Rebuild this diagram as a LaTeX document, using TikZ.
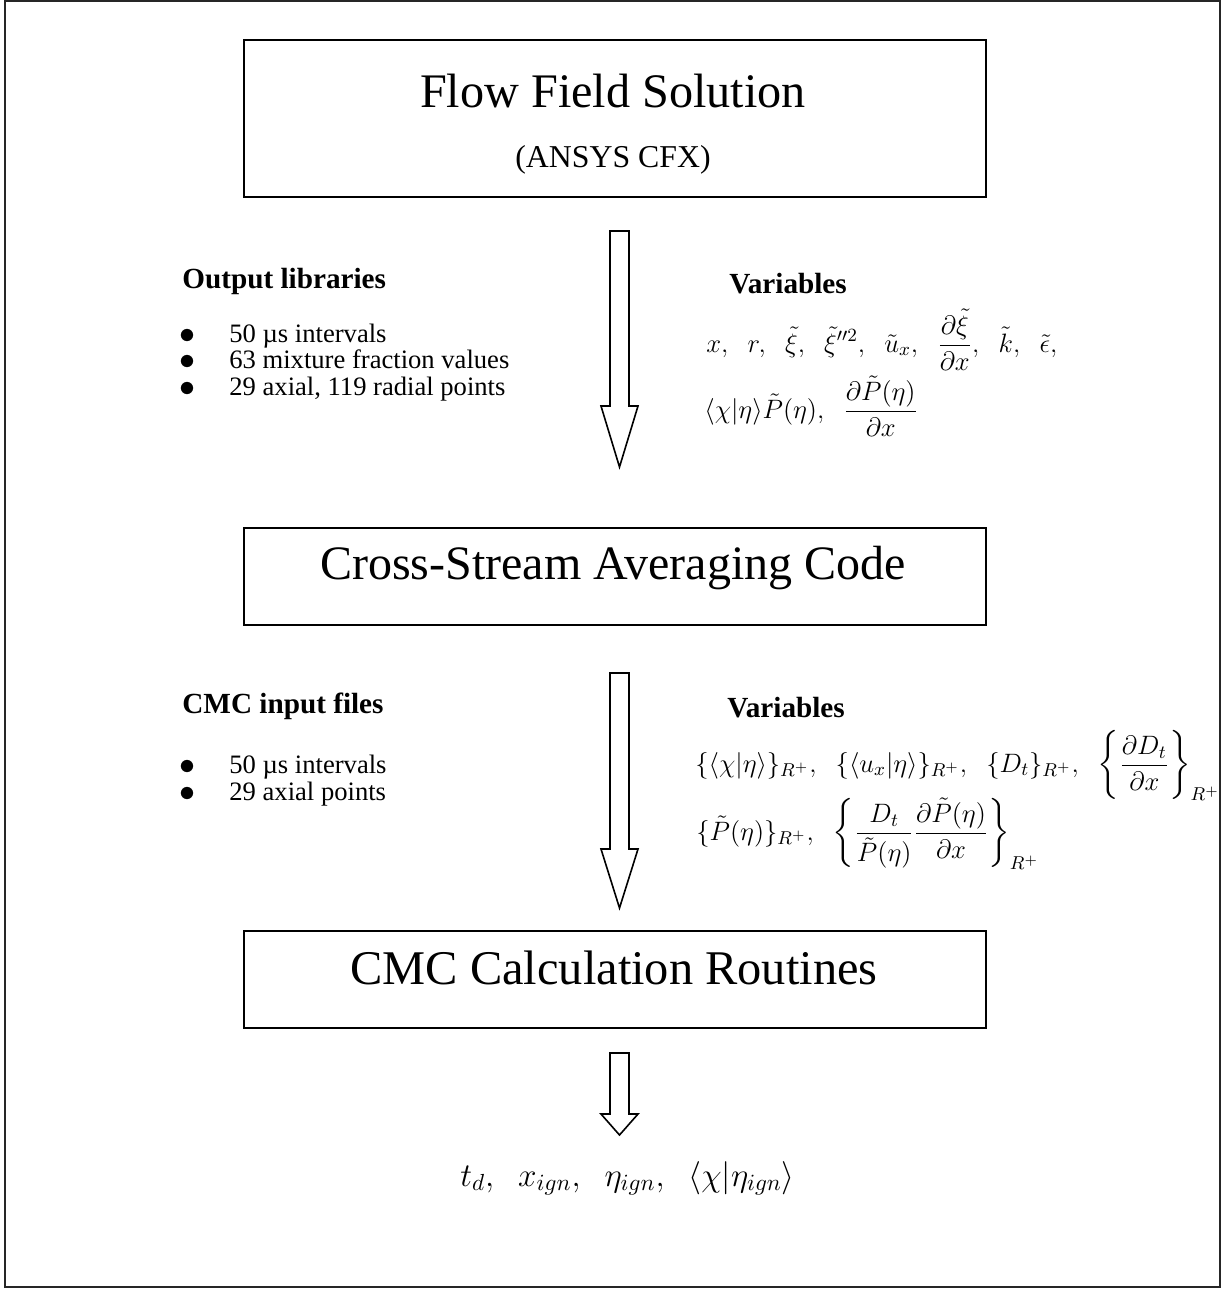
\RequirePackage{fix-cm}
\documentclass[tikz,border=0pt]{standalone}
\usepackage{amsmath}
\usepackage{fontspec}
\setmainfont{Liberation Serif}
\usetikzlibrary{positioning}

\newcommand{\hollowarrow}[3]{%
\draw[arrowline] (610,#1) -- (629,#1) -- (629,#2) -- (638,#2) -- (619.5,#3) -- (601,#2) -- (610,#2) -- cycle;}

\begin{document}
\begin{tikzpicture}[x=0.5pt,y=-0.5pt,
stagebox/.style={rectangle, draw=black, line width=1pt, inner sep=0pt},
titletext/.style={inner sep=0pt, anchor=base},
headtext/.style={inner sep=0pt, anchor=base west, font=\fontsize{14.6}{16}\selectfont\bfseries},
itemtext/.style={inner sep=0pt, anchor=base west, font=\fontsize{13.3}{14}\selectfont},
bulletmark/.style={inner sep=0pt, anchor=base west, font=\fontsize{16}{16}\selectfont},
mathtext/.style={inner sep=0pt, anchor=base west, font=\fontsize{13.3}{16}\selectfont},
arrowline/.style={draw=black, line width=0.8pt, line join=miter, fill=white}
]
\useasboundingbox (0,0) rectangle (1222,1289);
\draw[black!85, line width=1pt] (4.5,1.5) rectangle (1220,1287);
%Boxes
\node[stagebox, minimum width=371pt, minimum height=78.5pt] (flow) at (615,118.5) {};
\node[stagebox, minimum width=371pt, minimum height=48.5pt] (avg) at (615,576.5) {};
\node[stagebox, minimum width=371pt, minimum height=48.5pt] (calc) at (615,979.5) {};
%Titles
\node[titletext, font=\fontsize{24.1}{28}\selectfont] (flowtitle) at (613,108) {Flow Field Solution};
\node[titletext, font=\fontsize{15.9}{18}\selectfont] (flowsub) at (613,168) {(ANSYS CFX)};
\node[titletext, font=\fontsize{24}{28}\selectfont] (avgtitle) at (613,579) {Cross-Stream Averaging Code};
\node[titletext, font=\fontsize{24.2}{28}\selectfont] (calctitle) at (614,984) {CMC Calculation Routines};
%Arrows
\hollowarrow{231}{406}{467}
\hollowarrow{673}{849}{908}
\hollowarrow{1053}{1114}{1135}
%Output libraries
\node[headtext] (outlib) at (182,288) {Output libraries};
\foreach \txt [count=\i] in {50 µs intervals, 63 mixture fraction values, {29 axial, 119 radial points}}
{
\node[bulletmark] (outbul\i) at (179,343+26.5*\i-26.5) {$\bullet$};
\node[itemtext] (outitem\i) at (229,342+26.5*\i-26.5) {\txt};
}
%CMC input files
\node[headtext] (cmcin) at (182,713) {CMC input files};
\foreach \txt [count=\i] in {50 µs intervals, 29 axial points}
{
\node[bulletmark] (inbul\i) at (179,774+27*\i-27) {$\bullet$};
\node[itemtext] (initem\i) at (229,773+27*\i-27) {\txt};
}
%Variables
\node[headtext] (vars) at (729,293) {Variables};
\node[mathtext] (varsa) at (706,352) {$\displaystyle x,\;\; r,\;\; \tilde{\xi},\;\; \tilde{\xi}''^{2},\;\; \tilde{u}_x,\;\; \frac{\partial\tilde{\xi}}{\partial x},\;\; \tilde{k},\;\; \tilde{\epsilon},$};
\node[mathtext] (varsb) at (704,418) {$\displaystyle \langle\chi|\eta\rangle\tilde{P}(\eta),\;\; \frac{\partial\tilde{P}(\eta)}{\partial x}$};
\node[headtext] (cmcvars) at (727,717) {Variables};
\node[mathtext] (cmcvarsa) at (695,772) {$\displaystyle \{\langle\chi|\eta\rangle\}_{R^+},\;\; \{\langle u_x|\eta\rangle\}_{R^+},\;\; \{D_t\}_{R^+},\;\; \left\{\frac{\partial D_t}{\partial x}\right\}_{R^+}$};
\node[mathtext] (cmcvarsb) at (696,840) {$\displaystyle \{\tilde{P}(\eta)\}_{R^+},\;\; \left\{\frac{D_t}{\tilde{P}(\eta)}\frac{\partial\tilde{P}(\eta)}{\partial x}\right\}_{R^+}$};
%Results
\node[mathtext, font=\fontsize{16.6}{20}\selectfont] (results) at (460,1186) {$t_d,\;\; x_{ign},\;\; \eta_{ign},\;\; \langle\chi|\eta_{ign}\rangle$};
\end{tikzpicture}
\end{document}
